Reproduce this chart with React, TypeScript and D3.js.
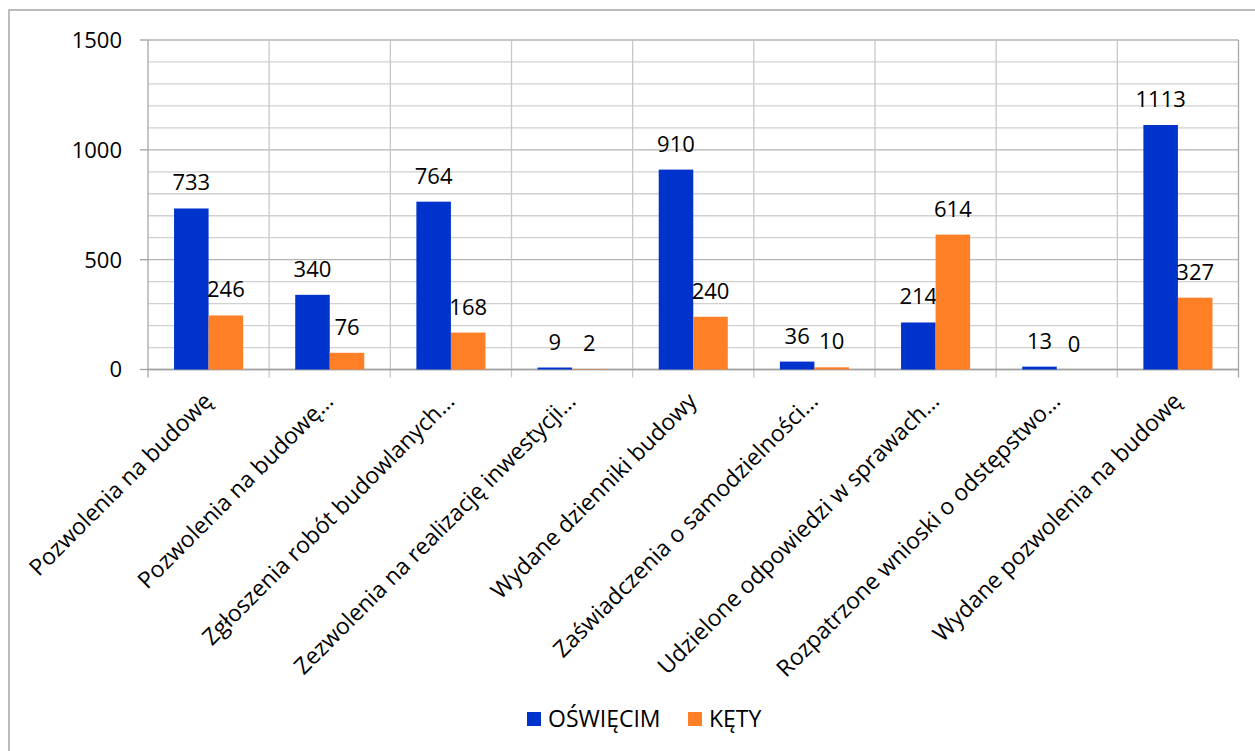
import React, { useEffect, useRef } from "react";
import * as d3 from "d3";

const categories = [
  "Pozwolenia na budowę",
  "Pozwolenia na budowę…",
  "Zgłoszenia robót budowlanych…",
  "Zezwolenia na realizację inwestycji…",
  "Wydane dzienniki budowy",
  "Zaświadczenia o samodzielności…",
  "Udzielone odpowiedzi w sprawach…",
  "Rozpatrzone wnioski o odstępstwo…",
  "Wydane pozwolenia na budowę",
];
const oswiecim = [733, 340, 764, 9, 910, 36, 214, 13, 1113];
const kety = [246, 76, 168, 2, 240, 10, 614, 0, 327];
const seriesNames = ["OŚWIĘCIM", "KĘTY"];
const seriesColors = ["#0033cc", "#ff7f27"];
const yTicks = [0, 500, 1000, 1500];
const minorTicks = d3.range(0, 1501, 100);

const W = 1255;
const H = 751;
const FONT = "'Open Sans', sans-serif";

export default function App() {
  const ref = useRef<SVGSVGElement>(null);
  useEffect(() => {
    const svg = d3.select(ref.current);
    svg.selectAll("*").remove();
    const left = 148, right = 1238.5, top = 40, bottom = 369.5;

    svg.append("rect").attr("x", 0).attr("y", 0).attr("width", W).attr("height", H).attr("fill", "#fff");
    svg.append("rect").attr("x", 9).attr("y", 10).attr("width", W + 20).attr("height", H + 20)
      .attr("fill", "none").attr("stroke", "#a6a6a6").attr("stroke-width", 1.5);

    const x = d3.scaleBand<string>().domain(categories).range([left, right]).padding(0);
    const y = d3.scaleLinear().domain([0, 1500]).range([bottom, top]);

    // minor grid
    svg.append("g").selectAll("line").data(minorTicks).join("line")
      .attr("x1", left).attr("x2", right)
      .attr("y1", d => y(d)).attr("y2", d => y(d))
      .attr("stroke", d => (d % 500 === 0 ? "#b4b4b4" : "#d0d0d0")).attr("stroke-width", 1.3);
    // vertical grid
    const bounds = categories.map(c => x(c)!).concat([right]);
    svg.append("g").selectAll("line").data(bounds).join("line")
      .attr("x1", d => d).attr("x2", d => d)
      .attr("y1", top).attr("y2", bottom + 8)
      .attr("stroke", (d, i) => (i === 0 || i === bounds.length - 1 ? "#a6a6a6" : "#c8c8c8")).attr("stroke-width", 1.3);
    // axis line
    svg.append("line").attr("x1", left).attr("x2", right).attr("y1", bottom).attr("y2", bottom)
      .attr("stroke", "#a0a0a0").attr("stroke-width", 1.5);
    // y ticks
    svg.append("g").selectAll("line").data(yTicks).join("line")
      .attr("x1", left - 8).attr("x2", left).attr("y1", d => y(d)).attr("y2", d => y(d))
      .attr("stroke", "#a0a0a0").attr("stroke-width", 1.3);
    svg.append("g").selectAll("text").data(yTicks).join("text")
      .attr("x", 122).attr("y", d => y(d)).attr("dy", "0.36em")
      .attr("text-anchor", "end").attr("font-family", FONT).attr("font-size", 22).attr("fill", "#000")
      .text(d => d);

    const bw = x.bandwidth() * 0.285;
    const series = [oswiecim, kety];
    series.forEach((vals, si) => {
      const g = svg.append("g");
      g.selectAll("rect").data(vals).join("rect")
        .attr("x", (d, i) => x(categories[i])! + x.bandwidth() / 2 - bw + si * bw)
        .attr("y", d => y(d)).attr("width", bw).attr("height", d => bottom - y(d))
        .attr("fill", seriesColors[si]);
      g.selectAll("text").data(vals).join("text")
        .attr("x", (d, i) => x(categories[i])! + x.bandwidth() / 2 - bw / 2 + si * bw)
        .attr("y", d => y(d) - 18)
        .attr("text-anchor", "middle").attr("font-family", FONT).attr("font-size", 22).attr("fill", "#000")
        .text(d => d);
    });

    // category labels
    svg.append("g").selectAll("text").data(categories).join("text")
      .attr("transform", c => `translate(${x(c)! + x.bandwidth() / 2 + 5},${bottom + 33}) rotate(-45)`)
      .attr("text-anchor", "end").attr("font-family", FONT).attr("font-size", 23).attr("fill", "#000")
      .text(c => c);

    // legend
    const lg = svg.append("g");
    const items = [{ x: 527, tx: 548 }, { x: 688, tx: 709 }];
    items.forEach((it, i) => {
      lg.append("rect").attr("x", it.x).attr("y", 712).attr("width", 14).attr("height", 14).attr("fill", seriesColors[i]);
      lg.append("text").attr("x", it.tx).attr("y", 719).attr("dy", "0.36em")
        .attr("font-family", FONT).attr("font-size", 23).attr("fill", "#000").text(seriesNames[i]);
    });
  }, []);
  return (
    <svg ref={ref} width={W} height={H} style={{ position: "absolute", left: 0, top: 0, display: "block" }} />
  );
}
